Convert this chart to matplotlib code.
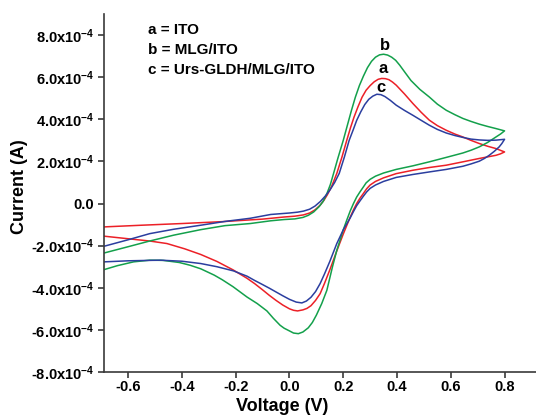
import matplotlib
matplotlib.use("Agg")
import matplotlib.pyplot as plt

plt.rcParams['font.family'] = ['Liberation Sans', 'DejaVu Sans']
plt.rcParams['font.weight'] = 'bold'
plt.rcParams['mathtext.default'] = 'regular'

# cyclic voltammograms, current in units of 1e-4 A
# a = ITO (red)
v_a = [-0.69, -0.55, -0.4, -0.25, -0.1, -0.02, 0.02, 0.052, 0.075, 0.095, 0.114, 0.128,
       0.141, 0.158, 0.176, 0.195, 0.213, 0.227, 0.24, 0.255, 0.27, 0.285, 0.3, 0.315,
       0.33, 0.343, 0.357, 0.37, 0.383, 0.397, 0.428, 0.459, 0.49, 0.52, 0.55, 0.583,
       0.615, 0.645, 0.675, 0.706, 0.737, 0.768, 0.8,
       0.785, 0.768, 0.706, 0.645, 0.583, 0.52, 0.459, 0.397, 0.35, 0.32, 0.3, 0.287,
       0.275, 0.262, 0.25, 0.238, 0.226, 0.2, 0.176, 0.15, 0.13, 0.114, 0.097, 0.08,
       0.065, 0.05, 0.03, 0.015, 0.0, -0.025, -0.05, -0.075, -0.1, -0.13, -0.158, -0.21,
       -0.27, -0.33, -0.39, -0.456, -0.52, -0.58, -0.69]
i_a = [-1.11, -1.03, -0.95, -0.86, -0.74, -0.64, -0.6, -0.54, -0.45, -0.3, -0.08, 0.15,
       0.42, 0.85, 1.43, 2.2, 3.0, 3.6, 4.1, 4.6, 5.05, 5.38, 5.6, 5.78,
       5.9, 5.94, 5.93, 5.88, 5.77, 5.62, 5.2, 4.75, 4.33, 3.96, 3.7, 3.48,
       3.3, 3.16, 3.0, 2.85, 2.72, 2.61, 2.45,
       2.36, 2.29, 2.14, 1.98, 1.82, 1.71, 1.58, 1.42, 1.22, 1.05, 0.88, 0.7,
       0.48, 0.25, 0.0, -0.3, -0.64, -1.45, -2.25, -3.15, -3.8, -4.28, -4.6, -4.85,
       -4.98, -5.05, -5.1, -5.07, -5.0, -4.82, -4.6, -4.36, -4.1, -3.8, -3.55, -3.15,
       -2.75, -2.42, -2.15, -1.9, -1.78, -1.7, -1.55]

# b = MLG/ITO (green)
v_b = [-0.69, -0.6, -0.52, -0.43, -0.33, -0.24, -0.146, -0.07, -0.02, 0.02, 0.05, 0.07,
       0.09, 0.11, 0.125, 0.14, 0.152, 0.164, 0.18, 0.2, 0.215, 0.23, 0.245, 0.26, 0.275,
       0.29, 0.305, 0.32, 0.335, 0.35, 0.365, 0.38, 0.395, 0.41, 0.43, 0.452, 0.485, 0.52,
       0.55, 0.583, 0.615, 0.645, 0.675, 0.706, 0.737, 0.768, 0.8,
       0.785, 0.768, 0.737, 0.706, 0.675, 0.645, 0.583, 0.52, 0.459, 0.397, 0.35, 0.32,
       0.3, 0.285, 0.275, 0.262, 0.25, 0.238, 0.226, 0.213, 0.2, 0.188, 0.176, 0.16,
       0.139, 0.12, 0.1, 0.085, 0.07, 0.05, 0.033, 0.015, 0.0, -0.02, -0.035, -0.06,
       -0.084, -0.12, -0.158, -0.21, -0.25, -0.28, -0.33, -0.37, -0.41, -0.47, -0.52,
       -0.58, -0.64, -0.69]
i_b = [-2.35, -2.05, -1.78, -1.5, -1.24, -1.05, -0.95, -0.82, -0.76, -0.73, -0.66, -0.56,
       -0.4, -0.15, 0.1, 0.5, 0.9, 1.43, 2.15, 3.0, 3.7, 4.4, 5.05, 5.6, 6.05,
       6.45, 6.75, 6.95, 7.06, 7.09, 7.05, 6.95, 6.8, 6.57, 6.22, 5.84, 5.42, 5.06,
       4.72, 4.43, 4.22, 4.04, 3.9, 3.77, 3.66, 3.56, 3.45,
       3.3, 3.16, 2.9, 2.69, 2.53, 2.4, 2.19, 1.98, 1.79, 1.62, 1.45, 1.3,
       1.15, 0.98, 0.79, 0.55, 0.31, 0.0, -0.35, -0.79, -1.25, -1.74, -2.22, -3.0,
       -4.12, -4.75, -5.3, -5.65, -5.9, -6.1, -6.18, -6.15, -6.05, -5.92, -5.78, -5.45,
       -5.1, -4.75, -4.44, -3.95, -3.62, -3.4, -3.1, -2.93, -2.8, -2.7, -2.69,
       -2.77, -2.95, -3.14]

# c = Urs-GLDH/MLG/ITO (blue)
v_c = [-0.69, -0.6, -0.52, -0.43, -0.33, -0.24, -0.146, -0.07, 0.0, 0.03, 0.052, 0.075,
       0.095, 0.115, 0.135, 0.151, 0.168, 0.185, 0.204, 0.222, 0.237, 0.25, 0.265, 0.28,
       0.295, 0.31, 0.325, 0.34, 0.355, 0.375, 0.397, 0.428, 0.459, 0.49, 0.52, 0.55,
       0.583, 0.615, 0.645, 0.675, 0.706, 0.737, 0.768, 0.8,
       0.79, 0.78, 0.762, 0.743, 0.725, 0.706, 0.675, 0.645, 0.583, 0.52, 0.459, 0.397,
       0.35, 0.32, 0.3, 0.287, 0.275, 0.262, 0.25, 0.238, 0.226, 0.2, 0.176, 0.15, 0.13,
       0.114, 0.097, 0.08, 0.063, 0.046, 0.025, 0.0, -0.025, -0.05, -0.075, -0.1, -0.13,
       -0.158, -0.208, -0.27, -0.33, -0.4, -0.48, -0.6, -0.69]
i_c = [-2.03, -1.72, -1.43, -1.22, -1.03, -0.85, -0.7, -0.52, -0.45, -0.41, -0.36, -0.27,
       -0.12, 0.1, 0.38, 0.65, 1.0, 1.43, 2.2, 3.0, 3.5, 3.95, 4.35, 4.7,
       4.95, 5.1, 5.19, 5.17, 5.08, 4.9, 4.67, 4.42, 4.19, 3.95, 3.72, 3.52,
       3.35, 3.23, 3.14, 3.06, 3.02, 3.0, 3.01, 3.05,
       2.85, 2.69, 2.48, 2.29, 2.14, 2.01, 1.88, 1.77, 1.62, 1.5, 1.38, 1.24,
       1.05, 0.88, 0.72, 0.55, 0.35, 0.12, -0.1, -0.38, -0.68, -1.25, -1.9, -2.75, -3.35,
       -3.8, -4.18, -4.45, -4.63, -4.72, -4.68, -4.55, -4.38, -4.2, -4.02, -3.85, -3.65,
       -3.45, -3.2, -3.0, -2.85, -2.74, -2.69, -2.72, -2.77]

curve_labels = ['b', 'a', 'c']
label_v = [0.357, 0.348, 0.34]
label_i = [7.5, 6.4, 5.5]

legend_lines = ['a = ITO', 'b = MLG/ITO', 'c = Urs-GLDH/MLG/ITO']

y_ticks = [-8, -6, -4, -2, 0, 2, 4, 6, 8]
x_ticks = [-0.6, -0.4, -0.2, 0.0, 0.2, 0.4, 0.6, 0.8]

fig = plt.figure(figsize=(5.36, 4.18), dpi=100)
ax = fig.add_axes([104 / 536, 1 - 372 / 418, 1 - 104 / 536, (372 - 14) / 418])

ax.plot(v_a, [i * 1e-4 for i in i_a], color='#ec2027', lw=1.1)
ax.plot(v_b, [i * 1e-4 for i in i_b], color='#13a04b', lw=1.1)
ax.plot(v_c, [i * 1e-4 for i in i_c], color='#2b3e9f', lw=1.1)

ax.set_xlim(-0.69, 0.917)
ax.set_ylim(-8e-4, 9e-4)
ax.set_xticks(x_ticks)
ax.set_xticklabels([f'{x:.1f}' for x in x_ticks])
ax.set_yticks([t * 1e-4 for t in y_ticks])
ax.set_yticklabels(['0.0' if t == 0 else f'{t:.1f}x10$^{{-4}}$' for t in y_ticks])

for side in ['top', 'right']:
    ax.spines[side].set_visible(False)
for side in ['left', 'bottom']:
    ax.spines[side].set_linewidth(1.2)
    ax.spines[side].set_color('#3a3a3a')
ax.tick_params(direction='out', length=4, width=1.2, color='#3a3a3a',
               labelsize=10.5, pad=2)
ax.tick_params(axis='y', pad=3)

ax.set_xlabel('Voltage (V)', fontsize=13, fontweight='bold')
ax.set_ylabel('Current (A)', fontsize=13, fontweight='bold')
ax.xaxis.set_label_coords(0.412, -0.072)
ax.yaxis.set_label_coords(-0.176, 0.517)

for txt, yy in zip(legend_lines, [30, 50, 70]):
    fig.text(148 / 536, 1 - yy / 418, txt, fontsize=11, fontweight='bold', va='center')

for lab, lv, li in zip(curve_labels, label_v, label_i):
    ax.text(lv, li * 1e-4, lab, fontsize=12, fontweight='bold', ha='center', va='center')

fig.savefig('out.png', dpi=100)
